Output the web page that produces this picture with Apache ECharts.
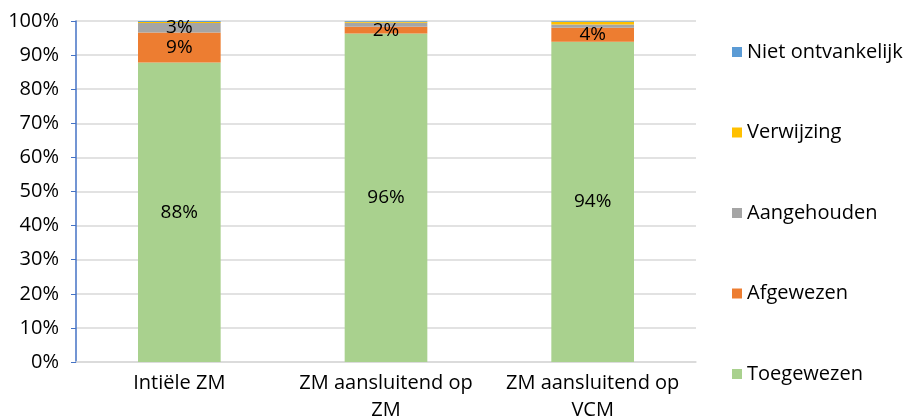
<!DOCTYPE html>
<html><head><meta charset="utf-8">
<script src="https://cdn.jsdelivr.net/npm/echarts@6/dist/echarts.min.js"></script>
<style>html,body{margin:0;padding:0;background:#fff;overflow:hidden}#c{width:907px;height:418px}</style>
</head><body><div id="c"></div>
<script>
const categories = ['Intiële ZM', 'ZM aansluitend op\nZM', 'ZM aansluitend op\nVCM'];
const toegewezen = [87.8, 96.3, 93.9];
const afgewezen = [8.8, 2.0, 4.1];
const aangehouden = [2.8, 1.2, 1.0];
const verwijzing = [0.3, 0.3, 0.8];
const nietOntvankelijk = [0.3, 0.2, 0.2];
const yTicks = [0, 10, 20, 30, 40, 50, 60, 70, 80, 90, 100];

const FONT = '"Open Sans", "Noto Sans", sans-serif';
const lbl = {
  show: true, position: 'inside', color: '#000', fontSize: 19, fontFamily: FONT,
  formatter: p => p.value >= 1.5 ? Math.round(p.value) + '%' : ''
};
function s(name, data, color) {
  return { name, type: 'bar', stack: 'a', data, barWidth: '40%', itemStyle: { color }, label: lbl };
}
const chart = echarts.init(document.getElementById('c'), null, { renderer: 'canvas' });
chart.setOption({
  animation: false,
  textStyle: { fontFamily: FONT },
  grid: { left: 76, right: 211, top: 21, bottom: 56, containLabel: false, outerBoundsMode: 'none' },
  legend: {
    orient: 'vertical', left: 732, top: 40, itemGap: 56.5, padding: 0,
    itemWidth: 10, itemHeight: 10, icon: 'rect',
    textStyle: { fontSize: 20, color: '#000', fontFamily: FONT, lineHeight: 24, padding: [0, 0, 0, 0] },
    data: ['Niet ontvankelijk', 'Verwijzing', 'Aangehouden', 'Afgewezen', 'Toegewezen']
  },
  xAxis: {
    type: 'category', data: categories,
    axisLine: { lineStyle: { color: '#d9d9d9', width: 1.5 } },
    axisTick: { show: false },
    axisLabel: { color: '#000', fontSize: 20, fontFamily: FONT, lineHeight: 27, margin: 8, interval: 0 }
  },
  yAxis: {
    type: 'value', min: 0, max: 100, interval: 10,
    axisLine: { show: true, lineStyle: { color: '#4472C4', width: 1.5 } },
    axisTick: { show: true, inside: false, length: 5, lineStyle: { color: '#4472C4' } },
    splitLine: { lineStyle: { color: '#d9d9d9', width: 1.5 } },
    axisLabel: { color: '#000', fontSize: 20, fontFamily: FONT, margin: 17,
      formatter: v => yTicks.includes(v) ? v + '%' : '' }
  },
  series: [
    s('Toegewezen', toegewezen, '#A9D18E'),
    s('Afgewezen', afgewezen, '#ED7D31'),
    s('Aangehouden', aangehouden, '#A5A5A5'),
    s('Verwijzing', verwijzing, '#FFC000'),
    s('Niet ontvankelijk', nietOntvankelijk, '#5B9BD5')
  ]
});
</script></body></html>
